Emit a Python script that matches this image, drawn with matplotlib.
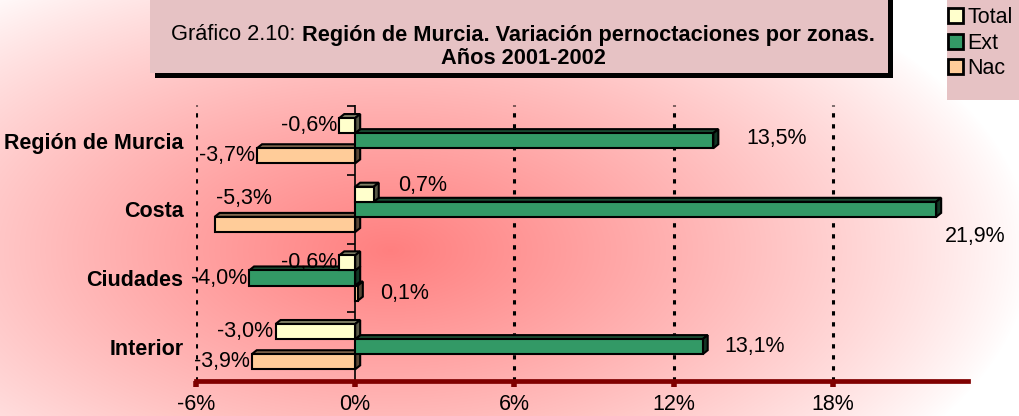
import numpy as np
import matplotlib
matplotlib.use("Agg")
import matplotlib.pyplot as plt
from matplotlib.patches import Polygon, Rectangle, Patch
from matplotlib.transforms import IdentityTransform

plt.rcParams['font.family'] = ['Liberation Sans', 'DejaVu Sans']

# data
zonas = ['Región de Murcia', 'Costa', 'Ciudades', 'Interior']
series = ['Total', 'Ext', 'Nac']
total = [-0.6, 0.7, -0.6, -3.0]
ext = [13.5, 21.9, -4.0, 13.1]
nac = [-3.7, -5.3, 0.1, -3.9]
xticks = [-6, 0, 6, 12, 18]

colors = {'Total': '#FFFFCC', 'Ext': '#339966', 'Nac': '#FFCC99'}
values = {'Total': total, 'Ext': ext, 'Nac': nac}
offsets = {'Total': -0.22, 'Ext': 0.0, 'Nac': 0.22}
bar_h = 0.22
fs = 15.5

# label tweaks (zone, serie) -> (ha, dx px, dy px)
label_fix = {(1, 'Nac'): ('left', 1, -26),
             (1, 'Ext'): ('left', 9, 27),
             (1, 'Total'): ('left', 24, -9),
             (0, 'Ext'): ('left', 33, -2)}

W, H = 1020, 416
fig = plt.figure(figsize=(W / 100, H / 100), dpi=100)

# background radial gradient
bg = fig.add_axes([0, 0, 1, 1], zorder=-10)
yy, xx = np.mgrid[0:H, 0:W]
d = np.sqrt(((xx - 390) / 640.0) ** 2 + ((yy - 250) / 330.0) ** 2)
a = np.clip(1 - d, 0, 1) ** 0.85
red = np.array([1.0, 0.5, 0.5])
img = 1 - (1 - red)[None, None, :] * a[:, :, None]
bg.imshow(img, aspect='auto', extent=[0, W, H, 0])
bg.axis('off')

ax = fig.add_axes([196 / W, 1 - 381 / H, (968 - 196) / W, (381 - 105) / H])
ax.set_facecolor('none')
ax.set_xlim(-6, 23.1)
ax.set_ylim(3.5, -0.52)

for s in ['left', 'top', 'right']:
    ax.spines[s].set_visible(False)
ax.spines['bottom'].set_color('#800000')
ax.spines['bottom'].set_linewidth(3.4)
ax.set_xticks(xticks)
ax.set_xticklabels(['{:d}%'.format(t) for t in xticks], fontsize=fs)
ax.tick_params(axis='x', colors='#800000', length=4, width=4, pad=5, labelcolor='black')
ax.set_yticks(range(len(zonas)))
ax.set_yticklabels(zonas, fontsize=fs, fontweight='bold')
ax.tick_params(axis='y', length=0, pad=9)

for t in xticks:
    if t == 0:
        ax.axvline(0, color='black', lw=1.2, zorder=1)
    else:
        ax.axvline(t, color='black', lw=2.2, linestyle=(0, (1.4, 2.2)), zorder=1)
for b in np.arange(-0.5, len(zonas) - 0.5, 1.0):
    ax.plot([0], [b], marker=0, color='black', markersize=6, mew=1.2, zorder=1)

fig.canvas.draw()
tr = ax.transData
dx, dy = 5, 4


def shade(c, f):
    rgb = np.array(matplotlib.colors.to_rgb(c))
    return tuple(rgb * f)


def bar3d(y, w, color):
    x0, x1 = min(0, w), max(0, w)
    pts = tr.transform([(x0, y - bar_h / 2), (x1, y + bar_h / 2)])
    L, R = pts[0][0], pts[1][0]
    T, B = max(pts[0][1], pts[1][1]), min(pts[0][1], pts[1][1])
    top = [(L, T), (R, T), (R + dx, T + dy), (L + dx, T + dy)]
    side = [(R, B), (R, T), (R + dx, T + dy), (R + dx, B + dy)]
    front = [(L, B), (R, B), (R, T), (L, T)]
    for poly, fc in [(top, shade(color, 0.5)), (side, shade(color, 0.35)), (front, color)]:
        ax.add_patch(Polygon(poly, closed=True, facecolor=fc, edgecolor='black',
                             lw=1.5, transform=IdentityTransform(), zorder=3,
                             joinstyle='miter'))
    return L, R, (T + B) / 2


for i in range(len(zonas)):
    for s in ['Nac', 'Ext', 'Total']:
        v = values[s][i]
        y = i + offsets[s]
        L, R, cy = bar3d(y, v, colors[s])
        txt = '{:.1f}%'.format(v).replace('.', ',')
        if (i, s) in label_fix:
            ha, ox, oy = label_fix[(i, s)]
            xe = L if v < 0 else R
            x = xe + ox
            ycen = cy - oy
        elif v < 0:
            ha, x, ycen = 'right', L - 2, cy
        else:
            ha, x, ycen = 'left', R + 22, cy
        ax.text(x, ycen, txt, ha=ha, va='center', fontsize=fs,
                transform=IdentityTransform(), zorder=5)

# title box
fig.patches.append(Rectangle((155 / W, 1 - 78 / H), 738 / W, 78 / H, transform=fig.transFigure,
                             facecolor='black', edgecolor='none', zorder=0))
fig.patches.append(Rectangle((150 / W, 1 - 73 / H), 738 / W, 74 / H, transform=fig.transFigure,
                             facecolor='#E6C2C4', edgecolor='none', zorder=1))
r = fig.canvas.get_renderer()
t1 = fig.text(0, 0, 'Gráfico 2.10: ', fontsize=15.7)
t2 = fig.text(0, 0, 'Región de Murcia. Variación pernoctaciones por zonas.', fontsize=15.7,
              fontweight='bold')
w1 = t1.get_window_extent(r).width
w2 = t2.get_window_extent(r).width
xc = 523
x0 = xc - (w1 + w2) / 2
t1.set_position(((x0) / W, 1 - 35 / H))
t2.set_position(((x0 + w1) / W, 1 - 35 / H))
t1.set_va('center')
t2.set_va('center')
fig.text(xc / W, 1 - 59 / H, 'Años 2001-2002', fontsize=15.7, fontweight='bold',
         ha='center', va='center')

# legend box
fig.patches.append(Rectangle((947 / W, 1 - 100 / H), 73 / W, 101 / H, transform=fig.transFigure,
                             facecolor='#E6C2C4', edgecolor='none', zorder=1))
handles = [Patch(facecolor=colors[s], edgecolor='black', lw=2) for s in series]
leg = fig.legend(handles, series, loc='upper left', bbox_to_anchor=(948 / W, 1 - 7 / H),
                 fontsize=fs, frameon=False, handlelength=0.7,
                 handleheight=0.7, handletextpad=0.2, labelspacing=0.22,
                 borderpad=0.0, borderaxespad=0.0)

fig.savefig('out.png', dpi=100)
